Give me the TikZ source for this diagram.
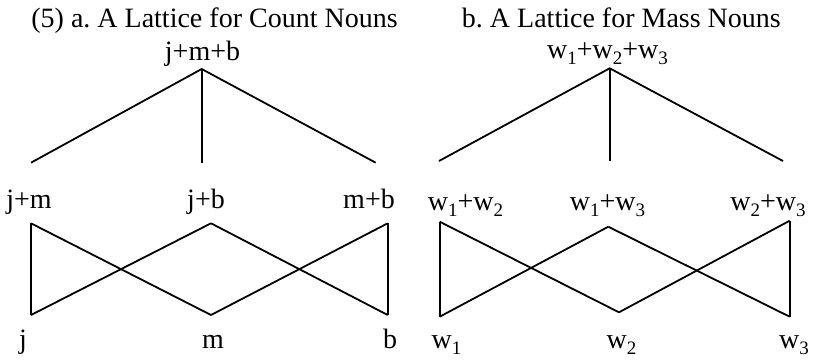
\documentclass[tikz,border=0pt]{standalone}
\usepackage{fontspec}
\setmainfont{Liberation Serif}
\newcommand\subn[1]{\raisebox{-6pt}{\fontsize{19}{19}\selectfont #1}}
\begin{document}
\frenchspacing
\begin{tikzpicture}[x=1pt,y=-1pt,
  lbl/.style={anchor=base,inner sep=0pt,font=\fontsize{28}{30}\selectfont},
  edge/.style={draw=black,line width=1.8pt,line join=miter}]
\useasboundingbox (0,0) rectangle (814,362);
% titles
\node[lbl] (ta) at (214.5,27) {(5) a. A Lattice for Count Nouns};
\node[lbl] (tb) at (621.4,27) {b. A Lattice for Mass Nouns};
% left labels
\node[lbl] (jmb) at (202.5,60) {j+m+b};
\node[lbl] (jm) at (29,208) {j+m};
\node[lbl] (jb) at (206,208) {j+b};
\node[lbl] (mb) at (369,208) {m+b};
\node[lbl] (j) at (23,348) {j};
\node[lbl] (m) at (213,348) {m};
\node[lbl] (b) at (390,348) {b};
% right labels
\node[lbl] (www) at (607.4,58) {w\subn{1}+w\subn{2}+w\subn{3}};
\node[lbl] (w12) at (465.5,210) {w\subn{1}+w\subn{2}};
\node[lbl] (w13) at (607.4,210) {w\subn{1}+w\subn{3}};
\node[lbl] (w23) at (768,210) {w\subn{2}+w\subn{3}};
\node[lbl] (w1) at (446.5,348) {w\subn{1}};
\node[lbl] (w2) at (621.4,348) {w\subn{2}};
\node[lbl] (w3) at (794,348) {w\subn{3}};
% left coordinates
\coordinate (LA) at (201.7,69);
\coordinate (LE1) at (31,162.7);
\coordinate (LE2) at (201.7,162.7);
\coordinate (LE3) at (375.7,162.7);
\coordinate (LTL) at (31,223.3);
\coordinate (LBL) at (31,315);
\coordinate (LTM) at (211,223.3);
\coordinate (LBM) at (211,315);
\coordinate (LTR) at (387.7,223.3);
\coordinate (LBR) at (387.7,315);
% right coordinates
\coordinate (RA) at (609.7,68.3);
\coordinate (RE1) at (439,161);
\coordinate (RE2) at (609.7,161);
\coordinate (RE3) at (783,161);
\coordinate (RTL) at (439.7,221.7);
\coordinate (RBL) at (439.7,316.7);
\coordinate (RTM) at (608.3,226.7);
\coordinate (RBM) at (619,312.3);
\coordinate (RTR) at (789.7,220.7);
\coordinate (RBR) at (789.7,316.7);
% left edges
\draw[edge] (LE1) -- (LA) -- (LE3);
\draw[edge] (LA) -- (LE2);
\draw[edge] (LTL) -- (LBL);
\draw[edge] (LTL) -- (LBM);
\draw[edge] (LBL) -- (LTM);
\draw[edge] (LTM) -- (LBR);
\draw[edge] (LBM) -- (LTR);
\draw[edge] (LTR) -- (LBR);
% right edges
\draw[edge] (RE1) -- (RA) -- (RE3);
\draw[edge] (RA) -- (RE2);
\draw[edge] (RTL) -- (RBL);
\draw[edge] (RTL) -- (RBM);
\draw[edge] (RBL) -- (RTM);
\draw[edge] (RTM) -- (RBR);
\draw[edge] (RBM) -- (RTR);
\draw[edge] (RTR) -- (RBR);
\end{tikzpicture}
\end{document}
